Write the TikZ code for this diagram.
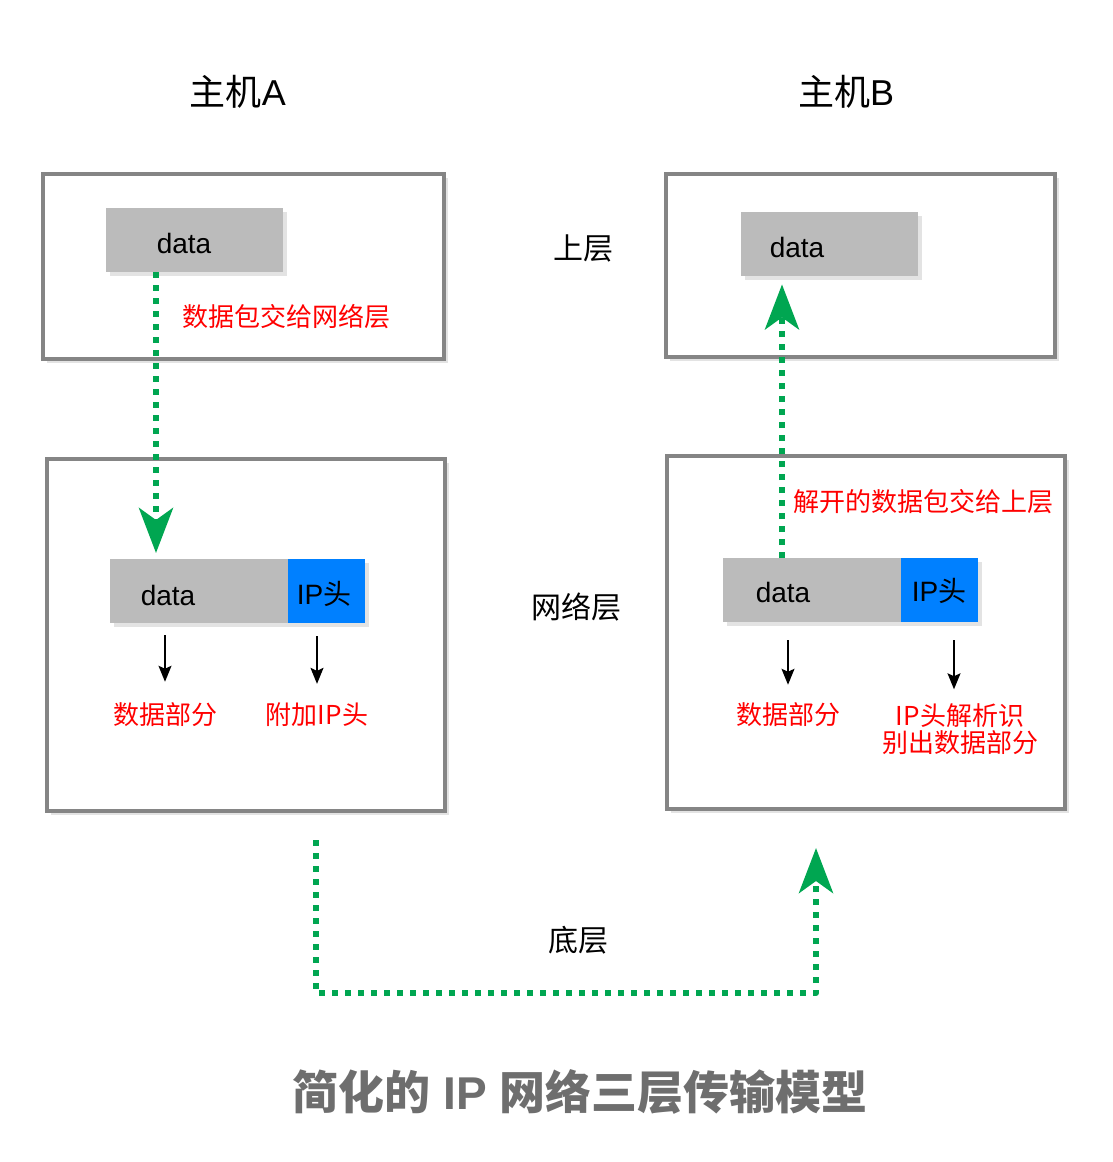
\documentclass[tikz,border=0pt]{standalone}
\usepackage{fontspec}
\setmainfont{Liberation Sans}
\newfontfamily\cjk{Noto Sans CJK SC}
\usetikzlibrary{arrows.meta,shadows}

\definecolor{framegray}{HTML}{858585}
\definecolor{datagray}{HTML}{BBBBBB}
\definecolor{ipblue}{HTML}{0080FF}
\definecolor{flowgreen}{HTML}{00A651}
\definecolor{titlegray}{HTML}{6E6E6E}

\tikzset{
  softshadow/.style={drop shadow={shadow xshift=4pt, shadow yshift=-4pt, opacity=0.22}},
  layerbox/.style={draw=framegray, line width=4pt, fill=white, anchor=north west, inner sep=0pt, softshadow},
  databox/.style={fill=datagray, anchor=north west, inner sep=0pt, minimum width=177pt, minimum height=64pt, softshadow},
  ipbox/.style={fill=ipblue, anchor=north west, inner sep=0pt, minimum width=77pt, minimum height=64pt, softshadow},
  boxtext/.style={font=\fontsize{28}{32}\selectfont, inner sep=0pt},
  hosttext/.style={font=\fontsize{36}{40}\selectfont, inner sep=0pt},
  layertext/.style={font=\fontsize{30}{34}\selectfont\cjk, inner sep=0pt},
  notetext/.style={font=\fontsize{26}{27}\selectfont\cjk, text=red, inner sep=0pt},
  flow/.style={draw=flowgreen, line width=6pt, dash pattern=on 6pt off 7pt, line join=round,
    -{Stealth[length=45pt,width=34pt,inset=12pt]}},
  splitarrow/.style={line width=1.5pt, -{Stealth[length=16pt,width=13pt,inset=3pt]}},
}

\begin{document}
\begin{tikzpicture}[x=1pt, y=-1pt]
  \useasboundingbox (0,0) rectangle (1113,1162);

  % Hosts
  \node[hosttext] (hostA) at (238,92) {{\cjk 主机}A};
  \node[hosttext] (hostB) at (846,92) {{\cjk 主机}B};

  % Layer frames
  \node[layerbox, minimum width=401pt, minimum height=185pt] (upA) at (41,172) {};
  \node[layerbox, minimum width=398pt, minimum height=352pt] (netA) at (45,457) {};
  \node[layerbox, minimum width=389pt, minimum height=183pt] (upB) at (664,172) {};
  \node[layerbox, minimum width=398pt, minimum height=353pt] (netB) at (665,454) {};

  % Layer names
  \node[layertext] (upper) at (583,248) {上层};
  \node[layertext] (network) at (576,607) {网络层};
  \node[layertext] (lower) at (578,940) {底层};

  % Host A packets
  \node[databox] (dA1) at (106,208) {};
  \node[boxtext] (dA1text) at (184,243) {data};
  \node[databox, minimum width=178pt] (dA2) at (110,559) {};
  \node[boxtext] (dA2text) at (168,595) {data};
  \node[ipbox] (ipA) at (288,559) {};
  \node[boxtext] (ipAtext) at (324,594) {IP{\cjk 头}};

  % Host B packets
  \node[databox] (dB1) at (741,212) {};
  \node[boxtext] (dB1text) at (797,247) {data};
  \node[databox, minimum width=178pt] (dB2) at (723,558) {};
  \node[boxtext] (dB2text) at (783,592) {data};
  \node[ipbox] (ipB) at (901,558) {};
  \node[boxtext] (ipBtext) at (939,591) {IP{\cjk 头}};

  % Notes
  \node[notetext] (sendA) at (286,317) {数据包交给网络层};
  \node[notetext] (recvB) at (923,502) {解开的数据包交给上层};
  \node[notetext] (partA1) at (165,715) {数据部分};
  \node[notetext] (partA2) at (317,715) {附加IP头};
  \node[notetext] (partB1) at (788,715) {数据部分};
  \node[notetext, align=center] (partB2) at (960,729) {IP头解析识\\别出数据部分};

  % Splitting arrows
  \draw[splitarrow, shorten <=12pt, shorten >=21pt] (partA1 |- dA2.south) -- (partA1.north);
  \draw[splitarrow, shorten <=13pt, shorten >=19pt] (partA2 |- ipA.south) -- (partA2.north);
  \draw[splitarrow, shorten <=18pt, shorten >=18pt] (partB1 |- dB2.south) -- (partB1.north);
  \draw[splitarrow, shorten <=18pt, shorten >=14pt] ([xshift=-6pt]partB2.north |- ipB.south) -- ([xshift=-6pt]partB2.north);

  % Green data flow
  \coordinate (outA) at (316,840);
  \coordinate (inB) at (816,848);
  \draw[flow, shorten >=6pt] ([xshift=50pt]dA1.south west) -- ([xshift=46pt]dA2.north west);
  \draw[flow] (outA) -- ++(0,153) -| (inB);
  \draw[flow, shorten >=8pt] ([xshift=59pt]dB2.north west) -- ([xshift=41pt]dB1.south west);

  % Title
  \node[font=\fontsize{46}{50}\selectfont\bfseries, text=titlegray, inner sep=0pt] (title) at (580,1092)
    {{\cjk 简化的} IP {\cjk 网络三层传输模型}};
\end{tikzpicture}
\end{document}
